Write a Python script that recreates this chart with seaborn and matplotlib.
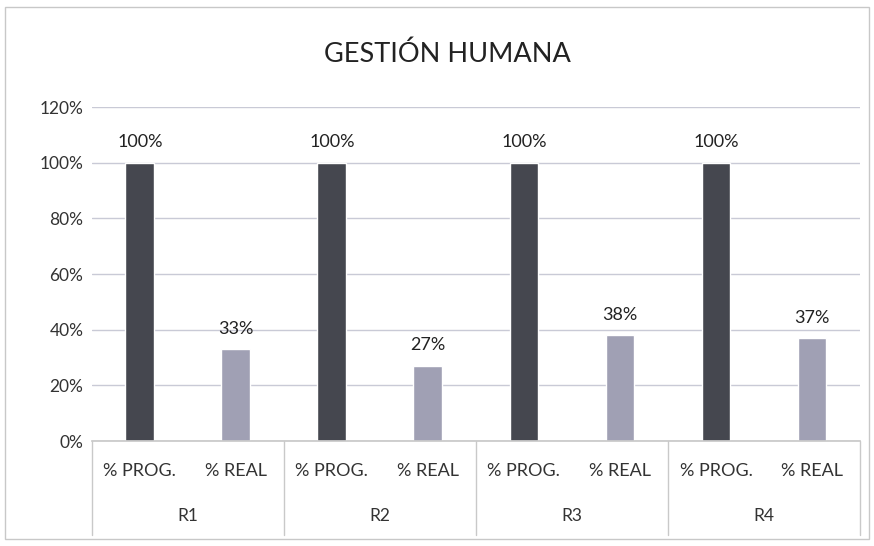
import matplotlib
matplotlib.use("Agg")
import matplotlib.pyplot as plt
import matplotlib.transforms as mtransforms
from matplotlib.patches import Rectangle
import seaborn as sns
import pandas as pd

# ---- data ----
title = "GESTIÓN HUMANA"
groups = ["R1", "R2", "R3", "R4"]
series = ["% PROG.", "% REAL"]
prog_values = [1.00, 1.00, 1.00, 1.00]
real_values = [0.33, 0.27, 0.38, 0.37]
y_ticks = [0.0, 0.2, 0.4, 0.6, 0.8, 1.0, 1.2]

rows = []
for g, p, r in zip(groups, prog_values, real_values):
    rows.append({"cat": f"{g}|{series[0]}", "group": g, "serie": series[0], "value": p})
    rows.append({"cat": f"{g}|{series[1]}", "group": g, "serie": series[1], "value": r})
df = pd.DataFrame(rows)

sns.set_theme(style="white")
plt.rcParams["font.family"] = ["Lato", "DejaVu Sans"]

fig = plt.figure(figsize=(8.74, 5.46), dpi=100)
ax = fig.add_axes([0.105, 0.192, 0.879, 0.612])

palette = {series[0]: "#45474f", series[1]: "#a0a0b4"}
sns.barplot(data=df, x="cat", y="value", hue="serie", palette=palette,
            dodge=False, width=0.3, ax=ax, legend=False, saturation=1)

ax.set_ylim(0, 1.2)
ax.set_xlim(-0.5, len(df) - 0.5)
ax.set_yticks(y_ticks)
ax.set_yticklabels([f"{int(round(v*100))}%" for v in y_ticks], fontsize=12.5, color="#333333")
ax.tick_params(axis="y", length=0, pad=6)
ax.yaxis.grid(True, color="#c9cad6", linewidth=1)
ax.set_axisbelow(True)
for s in ["top", "right", "left"]:
    ax.spines[s].set_visible(False)
ax.spines["bottom"].set_color("#c9c9c9")
ax.set_xlabel("")
ax.set_ylabel("")

# sub-category tick labels
ax.set_xticks(range(len(df)))
ax.set_xticklabels(df["serie"].tolist(), fontsize=13, color="#333333")
ax.tick_params(axis="x", length=0, pad=16)

# group labels and separators
trans = mtransforms.blended_transform_factory(ax.transData, ax.transAxes)
axis_h_px = 0.612 * 546
for i, g in enumerate(groups):
    ax.text(2 * i + 0.5, -75 / axis_h_px, g, transform=trans, ha="center", va="center",
            fontsize=12.5, color="#333333")
for xb in [-0.5, 1.5, 3.5, 5.5, 7.5]:
    ax.plot([xb, xb], [0, -94 / axis_h_px], transform=trans, color="#c9c9c9",
            linewidth=1, clip_on=False)

# bar value labels
for i, v in enumerate(df["value"]):
    ax.annotate(f"{int(round(v*100))}%", (i, v), xytext=(0, 9), textcoords="offset points",
                ha="center", va="bottom", fontsize=13, color="#222222")

fig.text(0.512, 0.9, title, ha="center", va="center", fontsize=19.5, color="#222222")
fig.patches.append(Rectangle((0.006, 0.012), 0.988, 0.975, transform=fig.transFigure,
                             fill=False, edgecolor="#c8c8c8", linewidth=1))

fig.savefig("out.png", dpi=100)
